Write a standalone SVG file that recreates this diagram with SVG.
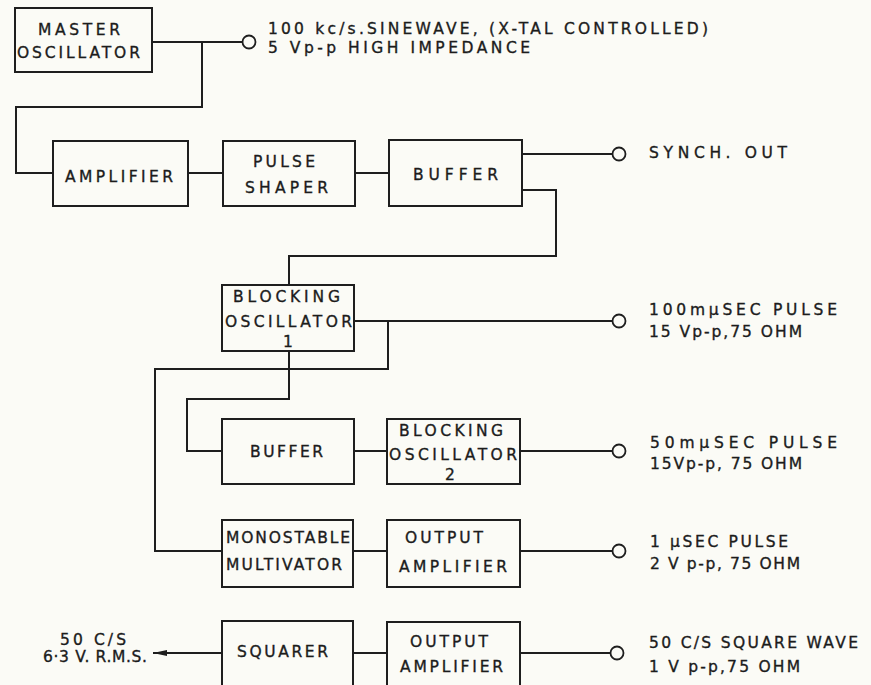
<svg xmlns="http://www.w3.org/2000/svg" width="871" height="685" viewBox="0 0 871 685">
<style>
.box{fill:none;stroke:#1e1e1e;stroke-width:2}
.wire{fill:none;stroke:#1e1e1e;stroke-width:2}
.term{fill:#fbfbf6;stroke:#1e1e1e;stroke-width:1.8}
text{font-family:"DejaVu Sans","Liberation Sans",sans-serif;font-size:15.5px;fill:#1c1c1c;stroke:#1c1c1c;stroke-width:0.35}
</style>
<defs>
<marker id="arr" markerWidth="14" markerHeight="8" refX="14" refY="4" orient="auto" markerUnits="userSpaceOnUse">
<path d="M0,1 L14,4 L0,7 Z" fill="#1e1e1e"/>
</marker>
</defs>
<rect width="871" height="685" fill="#fbfbf6"/>

<g id="connectors">
<path class="wire" d="M152,42 H242.5"/>
<path class="wire" d="M202,42 V107 H16 V173 H53"/>
<path class="wire" d="M188,173 H223"/>
<path class="wire" d="M355,173 H389"/>
<path class="wire" d="M522,154 H612.5"/>
<path class="wire" d="M522,190 H556 V256 H289 V285"/>
<path class="wire" d="M354,321 H612.5"/>
<path class="wire" d="M388,321 V369 H155 V551 H222"/>
<path class="wire" d="M289,351 V399 H187 V451 H222"/>
<path class="wire" d="M354,451 H387"/>
<path class="wire" d="M520,451 H612.5"/>
<path class="wire" d="M353,551 H387"/>
<path class="wire" d="M520,551 H612.5"/>
<path class="wire" d="M353,653 H387"/>
<path class="wire" d="M520,653 H610.5"/>
<path class="wire" d="M222,653 H153" marker-end="url(#arr)"/>
<circle class="term" cx="249" cy="42" r="6.5"/>
<circle class="term" cx="619" cy="154" r="6.5"/>
<circle class="term" cx="619" cy="321" r="6.5"/>
<circle class="term" cx="619" cy="451" r="6.5"/>
<circle class="term" cx="619" cy="551" r="6.5"/>
<circle class="term" cx="617" cy="653" r="6.5"/>
</g>

<g id="master-oscillator">
<rect class="box" x="15" y="8" width="137" height="64"/>
<text x="38" y="35" textLength="82" lengthAdjust="spacing">MASTER</text>
<text x="17" y="58" textLength="123" lengthAdjust="spacing">OSCILLATOR</text>
</g>
<g id="amplifier">
<rect class="box" x="53" y="141" width="135" height="65"/>
<text x="65" y="182" textLength="108" lengthAdjust="spacing">AMPLIFIER</text>
</g>
<g id="pulse-shaper">
<rect class="box" x="223" y="141" width="132" height="65"/>
<text x="253" y="167" textLength="62" lengthAdjust="spacing">PULSE</text>
<text x="245" y="193" textLength="83" lengthAdjust="spacing">SHAPER</text>
</g>
<g id="buffer-1">
<rect class="box" x="389" y="140" width="133" height="66"/>
<text x="413" y="180" textLength="85" lengthAdjust="spacing">BUFFER</text>
</g>
<g id="blocking-oscillator-1">
<rect class="box" x="222" y="285" width="132" height="66"/>
<text x="233" y="302" textLength="107" lengthAdjust="spacing">BLOCKING</text>
<text x="225" y="327" textLength="127" lengthAdjust="spacing">OSCILLATOR</text>
<text x="288" y="347" text-anchor="middle">1</text>
</g>
<g id="buffer-2">
<rect class="box" x="222" y="419" width="132" height="65"/>
<text x="250" y="457" textLength="73" lengthAdjust="spacing">BUFFER</text>
</g>
<g id="blocking-oscillator-2">
<rect class="box" x="387" y="419" width="133" height="65"/>
<text x="399" y="436" textLength="104" lengthAdjust="spacing">BLOCKING</text>
<text x="389" y="460" textLength="128" lengthAdjust="spacing">OSCILLATOR</text>
<text x="450" y="480" text-anchor="middle">2</text>
</g>
<g id="monostable-multivator">
<rect class="box" x="222" y="520" width="131" height="67"/>
<text x="226" y="543" textLength="124" lengthAdjust="spacing">MONOSTABLE</text>
<text x="226" y="570" textLength="116" lengthAdjust="spacing">MULTIVATOR</text>
</g>
<g id="output-amplifier-1">
<rect class="box" x="387" y="520" width="133" height="67"/>
<text x="405" y="543" textLength="78" lengthAdjust="spacing">OUTPUT</text>
<text x="399" y="572" textLength="108" lengthAdjust="spacing">AMPLIFIER</text>
</g>
<g id="squarer">
<rect class="box" x="222" y="621" width="131" height="80"/>
<text x="237" y="657" textLength="91" lengthAdjust="spacing">SQUARER</text>
</g>
<g id="output-amplifier-2">
<rect class="box" x="387" y="622" width="133" height="80"/>
<text x="410" y="647" textLength="78" lengthAdjust="spacing">OUTPUT</text>
<text x="400" y="672" textLength="103" lengthAdjust="spacing">AMPLIFIER</text>
</g>

<g id="labels">
<text x="268" y="34" textLength="440" lengthAdjust="spacing">100 kc/s.SINEWAVE, (X-TAL CONTROLLED)</text>
<text x="268" y="53" textLength="262" lengthAdjust="spacing">5 Vp-p  HIGH  IMPEDANCE</text>
<text x="649" y="158" textLength="138" lengthAdjust="spacing">SYNCH.  OUT</text>
<text x="649" y="315" textLength="188" lengthAdjust="spacing">100mμSEC  PULSE</text>
<text x="649" y="337" textLength="153" lengthAdjust="spacing">15 Vp-p,75  OHM</text>
<text x="650" y="448" textLength="187" lengthAdjust="spacing">50mμSEC  PULSE</text>
<text x="650" y="469" textLength="152" lengthAdjust="spacing">15Vp-p, 75  OHM</text>
<text x="650" y="547" textLength="138" lengthAdjust="spacing">1 μSEC PULSE</text>
<text x="650" y="569" textLength="150" lengthAdjust="spacing">2 V p-p, 75  OHM</text>
<text x="649" y="648" textLength="209" lengthAdjust="spacing">50 C/S  SQUARE  WAVE</text>
<text x="649" y="672" textLength="151" lengthAdjust="spacing">1 V p-p,75 OHM</text>
<text x="60" y="645" textLength="66" lengthAdjust="spacing">50 C/S</text>
<text x="43" y="662" textLength="104" lengthAdjust="spacing">6·3 V.  R.M.S.</text>
</g>
</svg>
